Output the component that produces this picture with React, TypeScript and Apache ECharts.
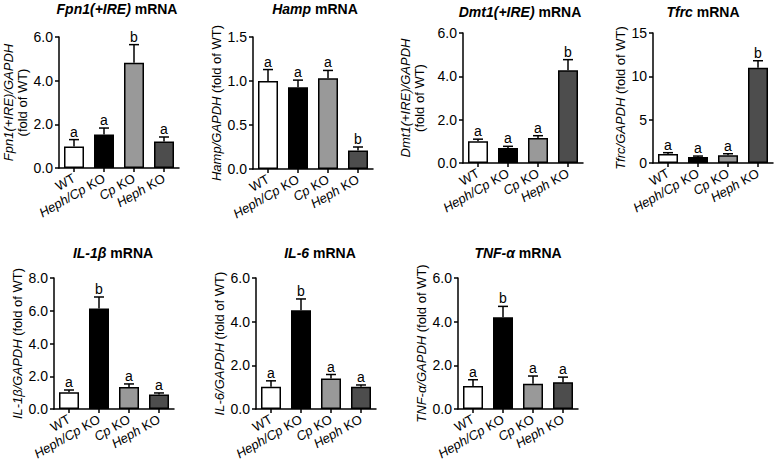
import React, { useEffect, useRef } from 'react';
import * as echarts from 'echarts';

const FONT = '"Liberation Sans", Arial, Helvetica, sans-serif';

// ---- data ----
const categories = ['WT', 'Heph/Cp KO', 'Cp KO', 'Heph KO'];
const italicParts = ['', 'Heph/Cp', 'Cp', 'Heph'];

const fpn1Values = [0.99, 1.53, 4.82, 1.21];
const fpn1Errors = [0.31, 0.3, 0.83, 0.21];
const fpn1Letters = ['a', 'a', 'b', 'a'];

const hampValues = [1.0, 0.93, 1.03, 0.21];
const hampErrors = [0.13, 0.08, 0.09, 0.04];
const hampLetters = ['a', 'a', 'a', 'b'];

const dmt1Values = [1.0, 0.69, 1.15, 4.28];
const dmt1Errors = [0.1, 0.08, 0.11, 0.49];
const dmt1Letters = ['a', 'a', 'a', 'b'];

const tfrcValues = [1.03, 0.69, 0.88, 11.0];
const tfrcErrors = [0.16, 0.11, 0.19, 0.8];
const tfrcLetters = ['a', 'a', 'a', 'b'];

const il1bValues = [1.02, 6.13, 1.34, 0.88];
const il1bErrors = [0.14, 0.71, 0.19, 0.1];
const il1bLetters = ['a', 'b', 'a', 'a'];

const il6Values = [1.02, 4.52, 1.4, 1.02];
const il6Errors = [0.27, 0.52, 0.18, 0.08];
const il6Letters = ['a', 'b', 'a', 'a'];

const tnfValues = [1.05, 4.2, 1.16, 1.23];
const tnfErrors = [0.29, 0.5, 0.35, 0.23];
const tnfLetters = ['a', 'b', 'a', 'a'];

// ---- styles / layout ----
const barColors = ['#ffffff', '#000000', '#999999', '#4d4d4d'];

const panels = [
  {
    title: '{i|Fpn1(+IRE)} mRNA', yName: '{i|Fpn1(+IRE)/GAPDH}\n(fold of WT)',
    values: fpn1Values, errors: fpn1Errors, letters: fpn1Letters, max: 6, interval: 2, decimals: 1,
    grid: { left: 59, top: 37, width: 120, height: 131 }, titleX: 117, titleY: 2, nameGap: 27,
  },
  {
    title: '{i|Hamp} mRNA', yName: '{i|Hamp/GAPDH} (fold of WT)',
    values: hampValues, errors: hampErrors, letters: hampLetters, max: 1.5, interval: 0.5, decimals: 1,
    grid: { left: 253, top: 37, width: 120, height: 132 }, titleX: 315, titleY: 2, nameGap: 27,
  },
  {
    title: '{i|Dmt1(+IRE)} mRNA', yName: '{i|Dmt1(+IRE)/GAPDH}\n(fold of WT)',
    values: dmt1Values, errors: dmt1Errors, letters: dmt1Letters, max: 6, interval: 2, decimals: 1,
    grid: { left: 463, top: 33, width: 120, height: 130 }, titleX: 520, titleY: 5, nameGap: 37,
  },
  {
    title: '{i|Tfrc} mRNA', yName: '{i|Tfrc/GAPDH} (fold of WT)',
    values: tfrcValues, errors: tfrcErrors, letters: tfrcLetters, max: 15, interval: 5, decimals: 0,
    grid: { left: 653, top: 33, width: 120, height: 130 }, titleX: 703, titleY: 5, nameGap: 25,
  },
  {
    title: '{i|IL-1β} mRNA', yName: '{i|IL-1β/GAPDH} (fold of WT)',
    values: il1bValues, errors: il1bErrors, letters: il1bLetters, max: 8, interval: 2, decimals: 1,
    grid: { left: 54, top: 278, width: 120, height: 131 }, titleX: 113, titleY: 246, nameGap: 28,
  },
  {
    title: '{i|IL-6} mRNA', yName: '{i|IL-6/GAPDH} (fold of WT)',
    values: il6Values, errors: il6Errors, letters: il6Letters, max: 6, interval: 2, decimals: 1,
    grid: { left: 256, top: 278, width: 120, height: 131 }, titleX: 320, titleY: 246, nameGap: 21,
  },
  {
    title: '{i|TNF-α} mRNA', yName: '{i|TNF-α/GAPDH} (fold of WT)',
    values: tnfValues, errors: tnfErrors, letters: tnfLetters, max: 6, interval: 2, decimals: 1,
    grid: { left: 458, top: 278, width: 120, height: 131 }, titleX: 518, titleY: 246, nameGap: 27,
  },
];

function buildOption() {
  const axisLine = { show: true, lineStyle: { color: '#000', width: 1.5 } };
  const axisTick = { show: true, length: 4, lineStyle: { color: '#000', width: 1.5 } };
  const title: any[] = [];
  const grid: any[] = [];
  const xAxis: any[] = [];
  const yAxis: any[] = [];
  const series: any[] = [];

  panels.forEach((p, k) => {
    title.push({
      text: p.title,
      left: p.titleX,
      top: p.titleY,
      textAlign: 'center',
      padding: 0,
      textStyle: {
        fontFamily: FONT, fontSize: 14, fontWeight: 'bold', color: '#000',
        rich: { i: { fontFamily: FONT, fontSize: 14, fontWeight: 'bold', fontStyle: 'italic', color: '#000' } },
      },
    });
    grid.push({ ...p.grid, containLabel: false });
    xAxis.push({
      type: 'category',
      gridIndex: k,
      data: categories,
      axisLine,
      axisTick: { ...axisTick, alignWithLabel: true },
      axisLabel: {
        interval: 0,
        rotate: 30,
        margin: 9,
        color: '#000',
        fontFamily: FONT,
        fontSize: 13,
        formatter: (val: string, idx: number) => {
          const it = italicParts[idx];
          if (!it) return val;
          return '{i|' + it + '}' + val.slice(it.length);
        },
        rich: { i: { fontFamily: FONT, fontSize: 13, fontStyle: 'italic', color: '#000' } },
      },
      splitLine: { show: false },
    });
    yAxis.push({
      type: 'value',
      gridIndex: k,
      min: 0,
      max: p.max,
      interval: p.interval,
      axisLine,
      axisTick,
      splitLine: { show: false },
      axisLabel: {
        margin: 6,
        color: '#000',
        fontFamily: FONT,
        fontSize: 14,
        formatter: (v: number) => v.toFixed(p.decimals),
      },
      name: p.yName,
      nameLocation: 'middle',
      nameRotate: 90,
      nameGap: p.nameGap,
      nameTextStyle: {
        fontFamily: FONT, fontSize: 13, color: '#000', lineHeight: 14, align: 'center',
        rich: { i: { fontFamily: FONT, fontSize: 13, fontStyle: 'italic', color: '#000', lineHeight: 14 } },
      },
    });
    series.push({
      type: 'bar',
      xAxisIndex: k,
      yAxisIndex: k,
      barWidth: 20,
      z: 2,
      data: p.values.map((v, i) => ({
        value: v,
        itemStyle: { color: barColors[i], borderColor: '#000', borderWidth: 1.5 },
      })),
    });
    series.push({
      type: 'custom',
      xAxisIndex: k,
      yAxisIndex: k,
      z: 3,
      itemStyle: { color: '#000' },
      encode: { x: 0, y: 1 },
      data: p.values.map((v, i) => [i, v, p.errors[i]]),
      renderItem: (params: any, api: any) => {
        const idx = api.value(0);
        const v = api.value(1);
        const e = api.value(2);
        const base = api.coord([idx, v]);
        const top = api.coord([idx, v + e]);
        const letter = p.letters[params.dataIndex];
        const stroke = { stroke: '#000', lineWidth: 1.5 };
        return {
          type: 'group',
          children: [
            { type: 'line', shape: { x1: base[0], y1: base[1], x2: top[0], y2: top[1] }, style: stroke },
            { type: 'line', shape: { x1: top[0] - 5, y1: top[1], x2: top[0] + 5, y2: top[1] }, style: stroke },
            {
              type: 'text',
              x: Math.round(top[0]),
              y: Math.round(top[1] - 1),
              style: {
                text: letter,
                textAlign: 'center',
                textVerticalAlign: 'bottom',
                fill: '#000',
                fontFamily: FONT,
                fontSize: 14,
              },
            },
          ],
        };
      },
    });
  });

  return {
    animation: false,
    backgroundColor: '#ffffff',
    title,
    grid,
    xAxis,
    yAxis,
    series,
  };
}

export default function App() {
  const ref = useRef<HTMLDivElement>(null);
  useEffect(() => {
    if (!ref.current) return;
    const chart = echarts.init(ref.current, null, { renderer: 'svg' });
    chart.setOption(buildOption() as any);
    return () => chart.dispose();
  }, []);
  return (
    <div
      ref={ref}
      style={{ position: 'absolute', left: 0, top: 0, width: 777, height: 467, background: '#fff' }}
    />
  );
}
